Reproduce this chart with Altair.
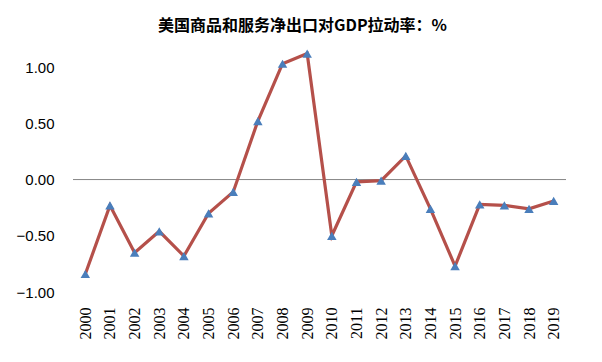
import altair as alt
import pandas as pd

years = [str(y) for y in range(2000, 2020)]
values = [-0.84, -0.23, -0.65, -0.46, -0.68, -0.30, -0.11, 0.52, 1.03, 1.12,
          -0.50, -0.02, -0.01, 0.21, -0.26, -0.77, -0.22, -0.23, -0.26, -0.19]
y_ticks = [-1.0, -0.5, 0.0, 0.5, 1.0]
title_text = "美国商品和服务净出口对GDP拉动率：%"

df = pd.DataFrame({"year": years, "value": values})

x_enc = alt.X("year:N", sort=years, title=None,
              scale=alt.Scale(type="point", padding=0.5),
              axis=alt.Axis(labelAngle=270, ticks=False, domain=False, grid=False,
                            labelPadding=15, labelFont="Liberation Serif",
                            labelFontSize=16, labelColor="#000000"))
y_enc = alt.Y("value:Q", title=None,
              scale=alt.Scale(domain=[-1.0, 1.25], nice=False, zero=False),
              axis=alt.Axis(values=y_ticks, format=".2f", ticks=False, domain=False,
                            grid=False, labelPadding=19, labelFont="Liberation Sans",
                            labelFontSize=15, labelColor="#000000"))

zero = alt.Chart(pd.DataFrame({"z": [0.0]})).mark_rule(
    color="#868686", strokeWidth=1).encode(y=alt.Y("z:Q", scale=alt.Scale(domain=[-1.0, 1.25], nice=False, zero=False)))

line = alt.Chart(df).mark_line(color="#B5504A", strokeWidth=3.2).encode(x=x_enc, y=y_enc)
pts = alt.Chart(df).mark_point(shape="triangle-up", filled=True, size=90,
                                color="#4A7EBB", opacity=1).encode(x=x_enc, y=y_enc)

chart = alt.layer(zero, line, pts).properties(
    width=493, height=253,
    autosize=alt.AutoSizeParams(type="none"),
    padding={"left": 65, "top": 31, "right": 28, "bottom": 62},
    title=alt.TitleParams(title_text, font="Noto Sans CJK SC", fontSize=16,
                          fontWeight="bold", color="#000000", anchor="middle",
                          dx=-17, offset=5),
).configure_view(stroke=None)

chart.save("out.html", embed_options={"renderer": "svg", "actions": False})
